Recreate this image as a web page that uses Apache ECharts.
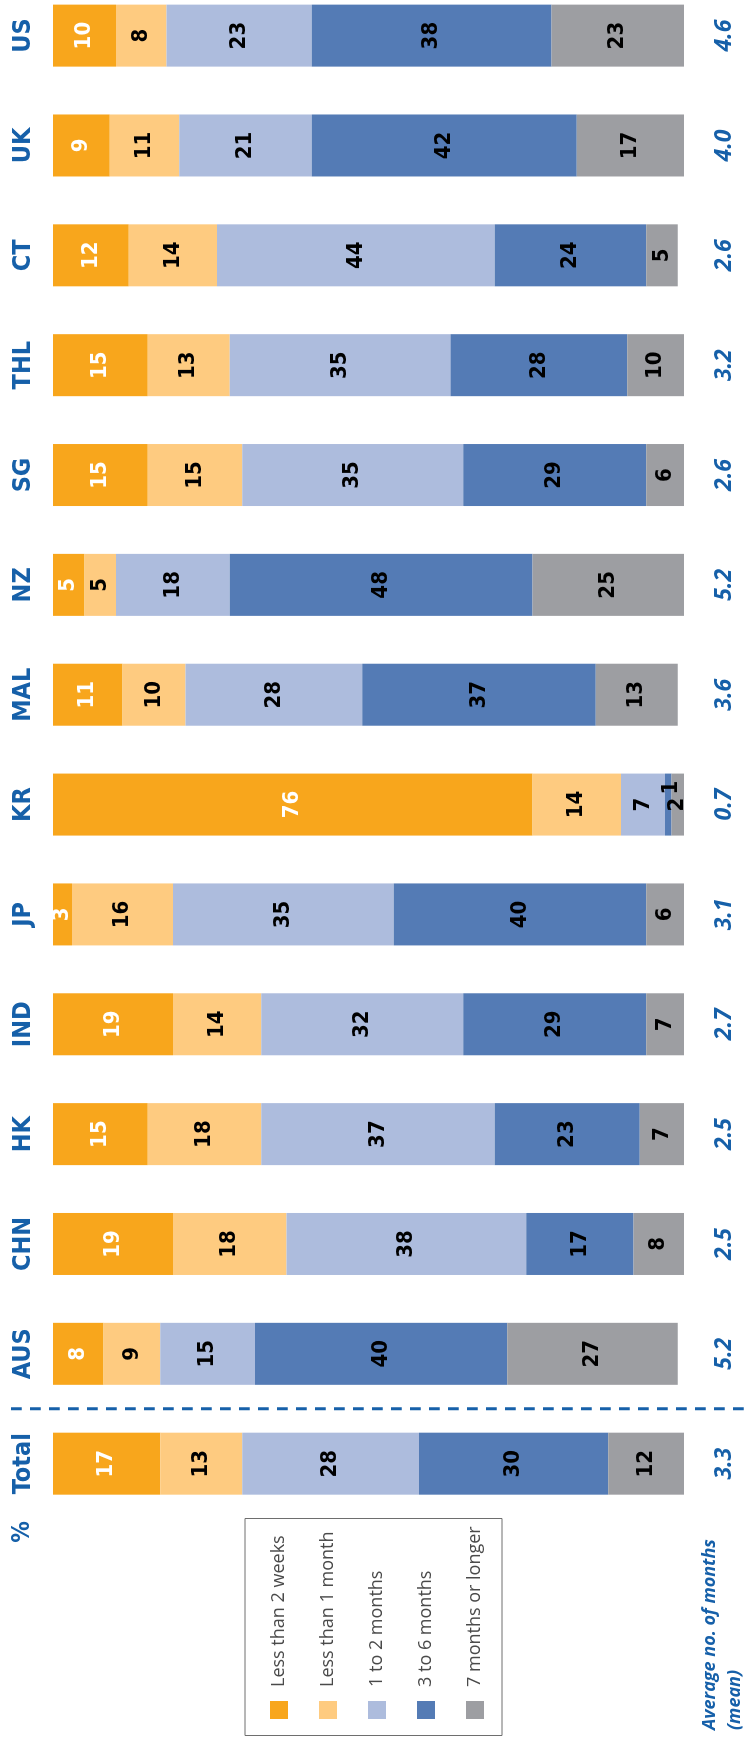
<!DOCTYPE html>
<html>
<head>
<meta charset="utf-8">
<title>Average time spent — stacked bars</title>
<script src="https://cdn.jsdelivr.net/npm/echarts@6/dist/echarts.min.js"></script>
<style>
  html, body { margin: 0; padding: 0; width: 749px; height: 1740px; overflow: hidden; background: #ffffff; }
  /* The chart is laid out landscape and turned a quarter turn counter-clockwise
     so that it reads bottom-to-top on a portrait page. The canvas is a little
     wider than the page height so the last band is not squeezed; the surplus
     strip simply falls above the top edge. */
  #chart {
    position: absolute; left: 0; top: 0;
    width: 1800px; height: 749px;
    transform-origin: 0 0;
    transform: translate(0, 1740px) rotate(-90deg);
  }
</style>
</head>
<body>
<div id="chart"></div>
<script>
// ---- data -------------------------------------------------------------
const categories = ['Total', 'AUS', 'CHN', 'HK', 'IND', 'JP', 'KR', 'MAL', 'NZ', 'SG', 'THL', 'CT', 'UK', 'US'];

const lessThan2Weeks   = [17,  8, 19, 15, 19,  3, 76, 11,  5, 15, 15, 12,  9, 10];
const lessThan1Month   = [13,  9, 18, 18, 14, 16, 14, 10,  5, 15, 13, 14, 11,  8];
const oneToTwoMonths   = [28, 15, 38, 37, 32, 35,  7, 28, 18, 35, 35, 44, 21, 23];
const threeToSixMonths = [30, 40, 17, 23, 29, 40,  1, 37, 48, 29, 28, 24, 42, 38];
const sevenPlusMonths  = [12, 27,  8,  7,  7,  6,  2, 13, 25,  6, 10,  5, 17, 23];

const averageMonths = ['3.3', '5.2', '2.5', '2.5', '2.7', '3.1', '0.7', '3.6', '5.2', '2.6', '3.2', '2.6', '4.0', '4.6'];

const seriesNames = ['Less than 2 weeks', 'Less than 1 month', '1 to 2 months', '3 to 6 months', '7 months or longer'];
const seriesValues = [lessThan2Weeks, lessThan1Month, oneToTwoMonths, threeToSixMonths, sevenPlusMonths];

// ---- styling ----------------------------------------------------------
const BLUE = '#1660a9';
const colors = ['#f8a61c', '#fecb80', '#adbcdd', '#547bb5', '#9d9ea2'];
const labelColors = ['#ffffff', '#000000', '#000000', '#000000', '#000000'];
const HEAVY = "'DejaVu Sans Condensed', 'DejaVu Sans', sans-serif";
const NARROW = "'Liberation Sans Narrow', 'Arial Narrow', 'Open Sans', sans-serif";

// one tiny segment whose label sits beside the bar rather than on it
const labelNudges = { '3 to 6 months|KR': [17, 3] };

const chart = echarts.init(document.getElementById('chart'), null, { renderer: 'canvas' });

const series = seriesNames.map((name, s) => ({
  name: name,
  type: 'bar',
  stack: 'share',
  barWidth: 62,
  xAxisIndex: 0,
  yAxisIndex: 0,
  itemStyle: { color: colors[s] },
  label: {
    show: true,
    position: 'inside',
    color: labelColors[s],
    fontFamily: HEAVY,
    fontWeight: 'bold',
    fontSize: 22
  },
  data: seriesValues[s].map((v, i) => {
    const nudge = labelNudges[name + '|' + categories[i]];
    return nudge ? { value: v, label: { offset: nudge } } : v;
  })
}));

const option = {
  animation: false,
  backgroundColor: '#ffffff',
  grid: { left: 221.4, top: 53, width: 1537.9, height: 631 },
  xAxis: [
    {
      type: 'category',
      data: categories,
      position: 'top',
      axisLine: { show: false },
      axisTick: { show: false },
      axisLabel: {
        margin: 30,
        verticalAlign: 'middle',
        color: BLUE,
        fontFamily: HEAVY,
        fontWeight: 'bold',
        fontSize: 25
      }
    },
    {
      type: 'category',
      data: categories,
      position: 'bottom',
      axisLine: { show: false },
      axisTick: { show: false },
      axisLabel: {
        margin: 40,
        verticalAlign: 'middle',
        color: BLUE,
        fontFamily: NARROW,
        fontStyle: 'italic',
        fontWeight: 'bold',
        fontSize: 23,
        formatter: (value, index) => averageMonths[index]
      }
    }
  ],
  yAxis: {
    type: 'value',
    min: 0,
    max: 100,
    inverse: true,
    show: false
  },
  legend: {
    orient: 'vertical',
    left: 16,
    top: 265,
    itemWidth: 18,
    itemHeight: 18,
    itemGap: 31,
    icon: 'rect',
    data: seriesNames,
    textStyle: {
      fontFamily: "'Open Sans', sans-serif",
      fontSize: 18,
      color: '#4a4a4a',
      padding: [0, 0, 0, 9]
    }
  },
  series: series
};

chart.setOption(option);

// Decorations placed from the axis scale: the divider between "Total" and the
// markets, plus the "%" tag, the legend frame and the footnote for the means.
const xTotal = chart.convertToPixel({ xAxisIndex: 0 }, 'Total');
const xFirst = chart.convertToPixel({ xAxisIndex: 0 }, categories[1]);
const divider = (xTotal + xFirst) / 2;

chart.setOption({
  graphic: [
    {
      type: 'line',
      shape: { x1: divider, y1: 11, x2: divider, y2: 749 },
      style: { stroke: BLUE, lineWidth: 3, lineDash: [10.7, 8.3] },
      silent: true
    },
    {
      type: 'text',
      x: 208, y: 23,
      style: {
        text: '%',
        fill: BLUE,
        font: "bold 24px 'DejaVu Sans Condensed', 'DejaVu Sans', sans-serif",
        align: 'center',
        verticalAlign: 'middle'
      }
    },
    {
      type: 'rect',
      shape: { x: 4.5, y: 245, width: 217, height: 257 },
      style: { fill: 'none', stroke: '#6e6e6e', lineWidth: 1 },
      silent: true
    },
    {
      type: 'text',
      x: 10, y: 722,
      style: {
        text: 'Average no. of months\n(mean)',
        fill: BLUE,
        font: "italic bold 18px 'Open Sans', sans-serif",
        lineHeight: 25,
        align: 'left',
        verticalAlign: 'middle'
      }
    }
  ]
});
</script>
</body>
</html>
